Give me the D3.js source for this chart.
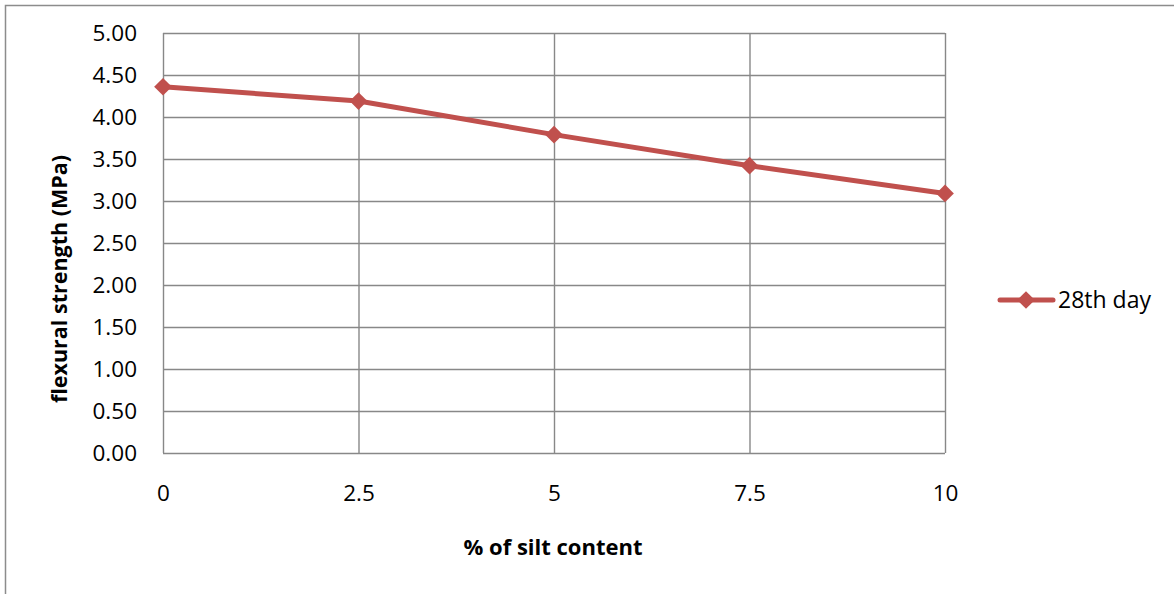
<!DOCTYPE html>
<html>
<head>
<meta charset="utf-8">
<script src="https://cdn.jsdelivr.net/npm/d3@7"></script>
<style>
  html, body { margin: 0; padding: 0; background: #fff; }
  svg { display: block; font-family: "Open Sans", "Liberation Sans", sans-serif; }
</style>
</head>
<body>
<svg id="chart" width="1174" height="594"></svg>
<script>
// Silt content categories (%) and 28th-day flexural strength (MPa)
const siltContent = ["0", "2.5", "5", "7.5", "10"];
const strength28 = [4.36, 4.19, 3.79, 3.42, 3.09];
const yTicks = [0, 0.5, 1, 1.5, 2, 2.5, 3, 3.5, 4, 4.5, 5];
const seriesName = "28th day";

const svg = d3.select("#chart");
const W = 1174, H = 594;
const plot = { left: 163, right: 945, top: 33, bottom: 453 };

const lineColor = "#C0504D";
const gridColor = "#888888";

// outer chart frame (top and left edges visible)
svg.append("path")
  .attr("d", `M5.5,${H} V5.5 H${W}`)
  .attr("fill", "none")
  .attr("stroke", "#8c8c8c")
  .attr("stroke-width", 1.5);

const x = d3.scalePoint().domain(siltContent).range([plot.left, plot.right]);
const y = d3.scaleLinear().domain([0, 5]).range([plot.bottom, plot.top]);

// horizontal gridlines + left axis labels
const yAxis = d3.axisLeft(y)
  .tickValues(yTicks)
  .tickSize(-(plot.right - plot.left))
  .tickPadding(26)
  .tickFormat(d3.format(".2f"));
const gy = svg.append("g")
  .attr("transform", `translate(${plot.left},0)`)
  .call(yAxis);
gy.select(".domain").remove();
gy.selectAll(".tick line").attr("stroke", gridColor).attr("stroke-width", 1.4);
gy.selectAll(".tick text")
  .attr("fill", "#000")
  .attr("font-size", 22.5)
  .attr("font-family", "'Open Sans', sans-serif");

// vertical gridlines + bottom axis labels
const xAxis = d3.axisBottom(x)
  .tickSize(-(plot.bottom - plot.top))
  .tickPadding(32);
const gx = svg.append("g")
  .attr("transform", `translate(0,${plot.bottom})`)
  .call(xAxis);
gx.select(".domain").remove();
gx.selectAll(".tick line").attr("stroke", gridColor).attr("stroke-width", 1.4);
gx.selectAll(".tick text")
  .attr("fill", "#000")
  .attr("font-size", 22.5)
  .attr("font-family", "'Open Sans', sans-serif");

// axis titles
svg.append("text")
  .attr("x", 553)
  .attr("y", 555)
  .attr("text-anchor", "middle")
  .attr("font-weight", "bold")
  .attr("font-size", 22)
  .text("% of silt content");

svg.append("text")
  .attr("transform", "translate(67,279) rotate(-90)")
  .attr("text-anchor", "middle")
  .attr("font-weight", "bold")
  .attr("font-size", 21.5)
  .text("flexural strength (MPa)");

// data series
const pts = siltContent.map((c, i) => [x(c), y(strength28[i])]);
svg.append("path")
  .attr("d", d3.line()(pts))
  .attr("fill", "none")
  .attr("stroke", lineColor)
  .attr("stroke-width", 5)
  .attr("stroke-linejoin", "round");

const diamond = d3.symbol().type(d3.symbolDiamond2).size(200);
svg.selectAll("path.marker")
  .data(pts)
  .join("path")
  .attr("class", "marker")
  .attr("transform", d => `translate(${d[0]},${d[1]})`)
  .attr("d", diamond)
  .attr("fill", lineColor);

// legend
const lg = svg.append("g").attr("transform", "translate(0,300)");
lg.append("line")
  .attr("x1", 1000).attr("x2", 1053)
  .attr("y1", 0).attr("y2", 0)
  .attr("stroke", lineColor)
  .attr("stroke-width", 5)
  .attr("stroke-linecap", "round");
lg.append("path")
  .attr("transform", "translate(1026,0)")
  .attr("d", diamond)
  .attr("fill", lineColor);
lg.append("text")
  .attr("x", 1058)
  .attr("y", 0)
  .attr("dy", "0.35em")
  .attr("font-size", 23)
  .text(seriesName);
</script>
</body>
</html>
